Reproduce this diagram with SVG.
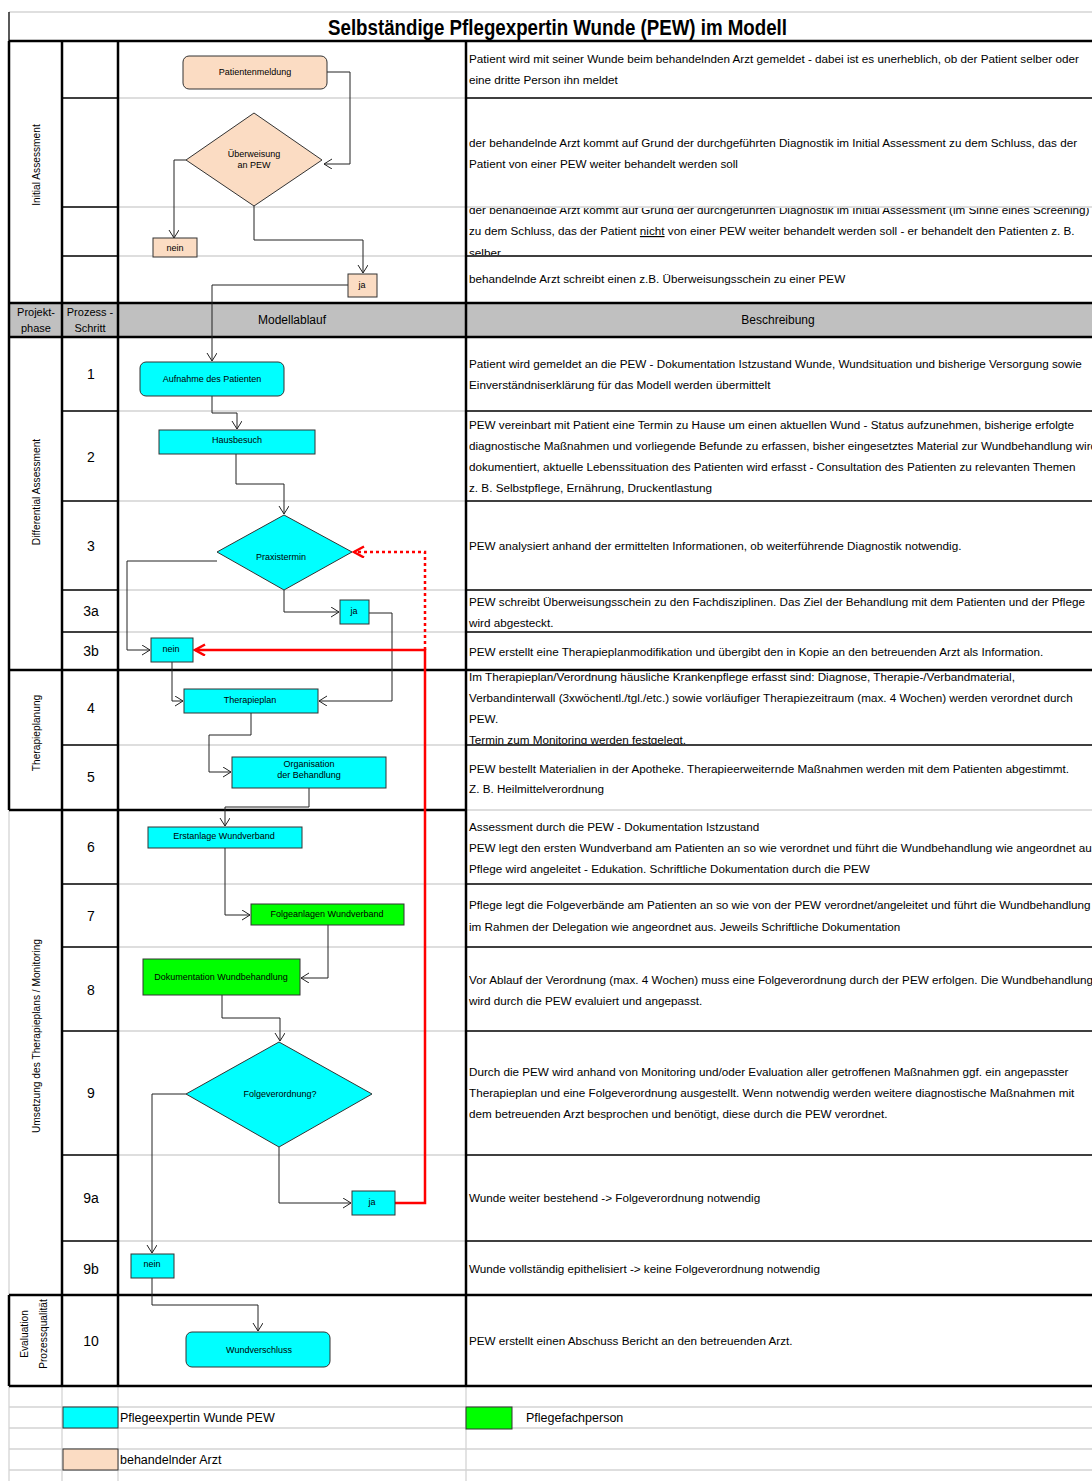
<svg xmlns="http://www.w3.org/2000/svg" width="1092" height="1481" viewBox="0 0 1092 1481">
<style>
text{font-family:"Liberation Sans",Arial,sans-serif;fill:#000}
.d{font-size:11.7px}
.n{font-size:14px;text-anchor:middle}
.h{font-size:12px;text-anchor:middle}
.ph{font-size:11px;text-anchor:middle}
.v{font-size:10.2px;text-anchor:middle}
.l{font-size:9px;text-anchor:middle}
.lg{font-size:12.5px}
.tk{stroke:#000;stroke-width:2.5;fill:none}
.tn{stroke:#000;stroke-width:1.3;fill:none}
.gr{stroke:#d4d4d4;stroke-width:1.3;fill:none}
.peach{fill:#fbdcc3;stroke:#333;stroke-width:1}
.cyan{fill:#00ffff;stroke:#333;stroke-width:1}
.green{fill:#00ff00;stroke:#333;stroke-width:1}
.c{fill:none;stroke:#222;stroke-width:1;marker-end:url(#a)}
.r{fill:none;stroke:#ff0000;stroke-width:2.5;marker-end:url(#ar)}
.rd{fill:none;stroke:#ff0000;stroke-width:2.5;stroke-dasharray:3,3;marker-end:url(#ar)}
</style>
<defs>
<marker id="a" markerWidth="10" markerHeight="12" refX="8" refY="5" orient="auto" markerUnits="userSpaceOnUse"><path d="M0,0 L8,5 L0,10" fill="none" stroke="#222" stroke-width="1"/></marker>
<marker id="ar" markerWidth="14" markerHeight="14" refX="11" refY="6" orient="auto" markerUnits="userSpaceOnUse"><path d="M1,0.5 L11,6 L1,11.5" fill="none" stroke="#ff0000" stroke-width="2.5"/></marker>
<clipPath id="c3"><rect x="466" y="208" width="626" height="47"/></clipPath>
<clipPath id="c4"><rect x="466" y="671" width="626" height="73"/></clipPath>
</defs>
<rect x="0" y="0" width="1092" height="1481" fill="#fff"/>

<g id="table">
<rect x="9" y="303" width="1083" height="34" fill="#c0c0c0"/>
<line class="gr" x1="9" y1="12" x2="1092" y2="12"/>
<line class="tn" x1="9" y1="12" x2="9" y2="41"/>
<line class="tk" x1="9" y1="41" x2="9" y2="810"/>
<line class="gr" x1="9" y1="810" x2="9" y2="1295"/>
<line class="tk" x1="9" y1="1295" x2="9" y2="1386"/>
<line class="gr" x1="9" y1="1386" x2="9" y2="1481"/>
<path class="gr" d="M9,1407H1092M9,1428H1092M9,1449H1092M9,1470H1092M62,1386V1481M118,1386V1481M466,1386V1481"/>
<path class="tn" d="M62,98H118M62,207H118M62,256H118M62,411H118M62,501H118M62,590H118M62,632H118M62,745H118M62,884H118M62,947H118M62,1031H118M62,1155H118M62,1241H118"/>
<path class="gr" d="M118,98H466M118,207H466M118,256H466M118,411H466M118,501H466M118,590H466M118,632H466M118,745H466M118,884H466M118,947H466M118,1031H466M118,1155H466M118,1241H466"/>
<path class="tn" d="M466,98H1092M466,256H1092M466,411H1092M466,501H1092M466,590H1092M466,632H1092M466,745H1092M466,884H1092M466,947H1092M466,1031H1092M466,1155H1092M466,1241H1092"/>
<path class="gr" d="M466,207H1092M466,810H1092"/>
<path class="tk" d="M9,41H1092M9,303H1092M9,337H1092M9,670H1092M9,810H466M9,1295H1092M9,1386H1092M62,41V1386M118,41V1386M466,41V1386"/>
</g>

<g id="title">
<text x="328" y="35" font-size="22" font-weight="bold" textLength="459" lengthAdjust="spacingAndGlyphs">Selbständige Pflegexpertin Wunde (PEW) im Modell</text>
</g>

<g id="header">
<text class="ph" x="36" y="316">Projekt-</text>
<text class="ph" x="36" y="332">phase</text>
<text class="ph" x="90" y="316">Prozess -</text>
<text class="ph" x="90" y="332">Schritt</text>
<text class="h" x="292" y="324">Modellablauf</text>
<text class="h" x="778" y="324">Beschreibung</text>
</g>

<g id="phases">
<text class="v" transform="translate(40,165) rotate(-90)">Initial Assessment</text>
<text class="v" transform="translate(40,492) rotate(-90)">Differential Assessment</text>
<text class="v" transform="translate(40,733) rotate(-90)">Therapieplanung</text>
<text class="v" transform="translate(40,1036) rotate(-90)">Umsetzung des Therapieplans / Monitoring</text>
<text class="v" transform="translate(28,1334) rotate(-90)">Evaluation</text>
<text class="v" transform="translate(47,1334) rotate(-90)">Prozessqualität</text>
</g>

<g id="steps">
<text class="n" x="91" y="379">1</text>
<text class="n" x="91" y="462">2</text>
<text class="n" x="91" y="551">3</text>
<text class="n" x="91" y="616">3a</text>
<text class="n" x="91" y="656">3b</text>
<text class="n" x="91" y="713">4</text>
<text class="n" x="91" y="782">5</text>
<text class="n" x="91" y="852">6</text>
<text class="n" x="91" y="921">7</text>
<text class="n" x="91" y="995">8</text>
<text class="n" x="91" y="1098">9</text>
<text class="n" x="91" y="1203">9a</text>
<text class="n" x="91" y="1274">9b</text>
<text class="n" x="91" y="1346" font-size="12">10</text>
</g>

<g id="descriptions" class="d">
<text class="d" x="469" y="63">Patient wird mit seiner Wunde beim behandelnden Arzt gemeldet - dabei ist  es unerheblich, ob der Patient selber oder</text>
<text class="d" x="469" y="84">eine dritte Person ihn meldet</text>
<text class="d" x="469" y="147">der behandelnde Arzt kommt auf Grund der durchgeführten Diagnostik im Initial Assessment zu dem Schluss, das der</text>
<text class="d" x="469" y="168">Patient von einer PEW weiter behandelt werden soll</text>
<g clip-path="url(#c3)">
<text class="d" x="469" y="214">der behandelnde Arzt kommt auf Grund der durchgeführten Diagnostik im Initial Assessment (im Sinne eines Screening)</text>
<text class="d" x="469" y="235">zu dem Schluss, das der Patient <tspan text-decoration="underline">nicht</tspan> von einer PEW  weiter behandelt werden soll - er behandelt den Patienten z. B.</text>
<text class="d" x="469" y="257">selber</text>
</g>
<text class="d" x="469" y="283">behandelnde Arzt  schreibt einen z.B. Überweisungsschein zu einer PEW</text>
<text class="d" x="469" y="368">Patient wird gemeldet an die PEW - Dokumentation Istzustand Wunde, Wundsituation und bisherige Versorgung sowie</text>
<text class="d" x="469" y="389">Einverständniserklärung für das Modell werden übermittelt</text>
<text class="d" x="469" y="429">PEW vereinbart mit Patient eine Termin zu Hause um einen aktuellen Wund - Status aufzunehmen, bisherige erfolgte</text>
<text class="d" x="469" y="450">diagnostische Maßnahmen und vorliegende Befunde zu erfassen, bisher eingesetztes Material zur Wundbehandlung wird</text>
<text class="d" x="469" y="471">dokumentiert, aktuelle Lebenssituation des Patienten wird erfasst - Consultation des Patienten zu relevanten Themen</text>
<text class="d" x="469" y="492">z. B. Selbstpflege, Ernährung, Druckentlastung</text>
<text class="d" x="469" y="550">PEW analysiert anhand der ermittelten Informationen, ob weiterführende Diagnostik notwendig.</text>
<text class="d" x="469" y="606">PEW schreibt Überweisungsschein zu den Fachdisziplinen. Das Ziel der Behandlung mit dem Patienten und der Pflege</text>
<text class="d" x="469" y="627">wird abgesteckt.</text>
<text class="d" x="469" y="656">PEW erstellt eine Therapieplanmodifikation und übergibt den in Kopie an den betreuenden Arzt als Information.</text>
<g clip-path="url(#c4)">
<text class="d" x="469" y="681">Im Therapieplan/Verordnung häusliche Krankenpflege erfasst sind: Diagnose, Therapie-/Verbandmaterial,</text>
<text class="d" x="469" y="702">Verbandinterwall (3xwöchentl./tgl./etc.) sowie vorläufiger Therapiezeitraum  (max. 4 Wochen) werden verordnet durch</text>
<text class="d" x="469" y="723">PEW.</text>
<text class="d" x="469" y="744">Termin zum Monitoring werden festgelegt.</text>
</g>
<text class="d" x="469" y="773">PEW bestellt Materialien in der Apotheke. Therapieerweiternde Maßnahmen werden mit dem Patienten abgestimmt.</text>
<text class="d" x="469" y="793">Z. B. Heilmittelverordnung</text>
<text class="d" x="469" y="831">Assessment durch die PEW - Dokumentation Istzustand</text>
<text class="d" x="469" y="852">PEW legt den ersten Wundverband am Patienten an so wie verordnet und führt die Wundbehandlung wie angeordnet aus.</text>
<text class="d" x="469" y="873">Pflege wird angeleitet - Edukation. Schriftliche Dokumentation durch die PEW</text>
<text class="d" x="469" y="909">Pflege legt die Folgeverbände am Patienten an so wie von der PEW verordnet/angeleitet und führt die Wundbehandlung</text>
<text class="d" x="469" y="931">im Rahmen der Delegation wie angeordnet aus. Jeweils Schriftliche Dokumentation</text>
<text class="d" x="469" y="984">Vor Ablauf der Verordnung (max. 4 Wochen) muss eine Folgeverordnung durch der PEW erfolgen. Die Wundbehandlung</text>
<text class="d" x="469" y="1005">wird durch die PEW evaluiert und angepasst.</text>
<text class="d" x="469" y="1076">Durch die PEW wird anhand von Monitoring und/oder Evaluation aller getroffenen Maßnahmen ggf. ein angepasster</text>
<text class="d" x="469" y="1097">Therapieplan und eine Folgeverordnung ausgestellt. Wenn notwendig werden weitere diagnostische Maßnahmen mit</text>
<text class="d" x="469" y="1118">dem betreuenden Arzt besprochen und benötigt, diese durch die PEW verordnet.</text>
<text class="d" x="469" y="1202">Wunde weiter bestehend -&gt; Folgeverordnung notwendig</text>
<text class="d" x="469" y="1273">Wunde vollständig epithelisiert -&gt; keine Folgeverordnung notwendig</text>
<text class="d" x="469" y="1345">PEW erstellt einen Abschuss Bericht an den betreuenden Arzt.</text>
</g>

<g id="connectors">
<path class="c" d="M327,72H350V164H324"/>
<path class="c" d="M186,160H174V238"/>
<path class="c" d="M254,206V240H363V273"/>
<path class="c" d="M348,285H212V361"/>
<path class="c" d="M212,396V413H237V429"/>
<path class="c" d="M236,454V484H284V514"/>
<path class="c" d="M217,561H127V650H150"/>
<path class="c" d="M284,590V612H339"/>
<path class="c" d="M172,662V701H183"/>
<path class="c" d="M369,613H392V701H319"/>
<path class="c" d="M251,713V735H209V772H231"/>
<path class="c" d="M309,788V807H225V826"/>
<path class="c" d="M225,848V915H250"/>
<path class="c" d="M328,925V978H301"/>
<path class="c" d="M222,995V1018H280V1041"/>
<path class="c" d="M186,1094H152V1253"/>
<path class="c" d="M279,1147V1203H351"/>
<path class="c" d="M152,1278V1305H258V1331"/>
<path class="r" d="M395,1203H425V650H195"/>
<path class="rd" d="M425,650V552H354"/>
</g>

<g id="n-patientenmeldung"><rect class="peach" x="183" y="56" width="144" height="33" rx="6"/><text class="l" x="255" y="75">Patientenmeldung</text></g>
<g id="n-ueberweisung"><polygon class="peach" points="254,113 322,160 254,206 186,160"/><text class="l" x="254" y="157">Überweisung</text><text class="l" x="254" y="168">an PEW</text></g>
<g id="n-nein-ia"><rect class="peach" x="153" y="238" width="44" height="19"/><text class="l" x="175" y="251">nein</text></g>
<g id="n-ja-ia"><rect class="peach" x="348" y="274" width="29" height="23"/><text class="l" x="362" y="288">ja</text></g>
<g id="n-aufnahme"><rect class="cyan" x="140" y="362" width="144" height="34" rx="6"/><text class="l" x="212" y="382">Aufnahme des Patienten</text></g>
<g id="n-hausbesuch"><rect class="cyan" x="159" y="430" width="156" height="24"/><text class="l" x="237" y="443">Hausbesuch</text></g>
<g id="n-praxistermin"><polygon class="cyan" points="284,515 352,552 284,590 217,552"/><text class="l" x="281" y="560">Praxistermin</text></g>
<g id="n-ja-3a"><rect class="cyan" x="340" y="600" width="29" height="24"/><text class="l" x="354" y="614">ja</text></g>
<g id="n-nein-3b"><rect class="cyan" x="151" y="638" width="42" height="24"/><text class="l" x="171" y="652">nein</text></g>
<g id="n-therapieplan"><rect class="cyan" x="184" y="689" width="134" height="24"/><text class="l" x="250" y="703">Therapieplan</text></g>
<g id="n-organisation"><rect class="cyan" x="232" y="757" width="154" height="31"/><text class="l" x="309" y="767">Organisation</text><text class="l" x="309" y="778">der Behandlung</text></g>
<g id="n-erstanlage"><rect class="cyan" x="148" y="827" width="154" height="21"/><text class="l" x="224" y="839">Erstanlage Wundverband</text></g>
<g id="n-folgeanlagen"><rect class="green" x="251" y="904" width="153" height="21"/><text class="l" x="327" y="917">Folgeanlagen Wundverband</text></g>
<g id="n-dokumentation"><rect class="green" x="143" y="959" width="157" height="36"/><text class="l" x="221" y="980">Dokumentation Wundbehandlung</text></g>
<g id="n-folgeverordnung"><polygon class="cyan" points="279,1042 372,1094 279,1147 186,1094"/><text class="l" x="280" y="1097">Folgeverordnung?</text></g>
<g id="n-ja-9a"><rect class="cyan" x="352" y="1191" width="43" height="24"/><text class="l" x="372" y="1205">ja</text></g>
<g id="n-nein-9b"><rect class="cyan" x="131" y="1254" width="43" height="24"/><text class="l" x="152" y="1267">nein</text></g>
<g id="n-wundverschluss"><rect class="cyan" x="186" y="1332" width="144" height="35" rx="6"/><text class="l" x="259" y="1353">Wundverschluss</text></g>

<g id="legend">
<rect class="cyan" x="63" y="1407" width="55" height="21" stroke-width="1.5"/>
<text class="lg" x="120" y="1422">Pflegeexpertin Wunde PEW</text>
<rect class="green" x="466" y="1407" width="46" height="22" stroke-width="1.5"/>
<text class="lg" x="526" y="1422">Pflegefachperson</text>
<rect class="peach" x="63" y="1449" width="55" height="21" stroke-width="1.5"/>
<text class="lg" x="120" y="1464">behandelnder Arzt</text>
</g>
</svg>
